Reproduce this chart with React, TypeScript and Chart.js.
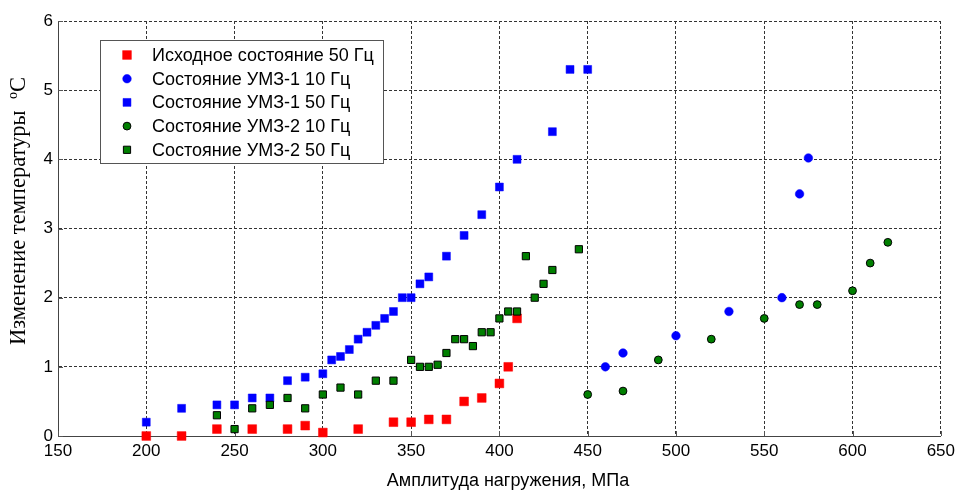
import React, { useEffect, useRef } from "react";
import { Chart, registerables } from "chart.js";

Chart.register(...registerables);

// ---- Data ----
const seriesLabels = [
  "Исходное состояние 50 Гц",
  "Состояние УМЗ-1 10 Гц",
  "Состояние УМЗ-1 50 Гц",
  "Состояние УМЗ-2 10 Гц",
  "Состояние УМЗ-2 50 Гц",
];

const initX = [200, 220, 240, 260, 280, 290, 300, 320, 340, 350, 360, 370, 380, 390, 400, 405, 410];
const initY = [0, 0, 0.1, 0.1, 0.1, 0.15, 0.05, 0.1, 0.2, 0.2, 0.24, 0.24, 0.5, 0.55, 0.76, 1.0, 1.7];

const umz1f10X = [460, 470, 500, 530, 560, 570, 575];
const umz1f10Y = [1.0, 1.2, 1.45, 1.8, 2.0, 3.5, 4.02];

const umz1f50X = [200, 220, 240, 250, 260, 270, 280, 290, 300, 305, 310, 315, 320, 325, 330, 335, 340, 345, 350, 355, 360, 370, 380, 390, 400, 410, 430, 440, 450];
const umz1f50Y = [0.2, 0.4, 0.45, 0.45, 0.55, 0.55, 0.8, 0.85, 0.9, 1.1, 1.15, 1.25, 1.4, 1.5, 1.6, 1.7, 1.8, 2.0, 2.0, 2.2, 2.3, 2.6, 2.9, 3.2, 3.6, 4.0, 4.4, 5.3, 5.3];

const umz2f10X = [450, 470, 490, 520, 550, 570, 580, 600, 610, 620];
const umz2f10Y = [0.6, 0.65, 1.1, 1.4, 1.7, 1.9, 1.9, 2.1, 2.5, 2.8];

const umz2f50X = [240, 250, 260, 270, 280, 290, 300, 310, 320, 330, 340, 350, 355, 360, 365, 370, 375, 380, 385, 390, 395, 400, 405, 410, 415, 420, 425, 430, 445];
const umz2f50Y = [0.3, 0.1, 0.4, 0.45, 0.55, 0.4, 0.6, 0.7, 0.6, 0.8, 0.8, 1.1, 1.0, 1.0, 1.03, 1.2, 1.4, 1.4, 1.3, 1.5, 1.5, 1.7, 1.8, 1.8, 2.6, 2.0, 2.2, 2.4, 2.7];

const xMin = 150, xMax = 650, xStep = 50;
const yMin = 0, yMax = 6, yStep = 1;

const xTitle = "Амплитуда нагружения, МПа";
const yTitleMain = "Изменение температуры  ";
const yTitleSup = "o";
const yTitleEnd = "C";

const toPoints = (xs: number[], ys: number[]) => xs.map((x, i) => ({ x, y: ys[i] }));

type Style = { shape: "rect" | "circle"; fill: string; border: string; radius: number; bw: number };
const styles: Style[] = [
  { shape: "rect", fill: "#ff0000", border: "#ff0000", radius: 6.2, bw: 0.5 },
  { shape: "circle", fill: "#0000ff", border: "#0000ff", radius: 4.3, bw: 0.5 },
  { shape: "rect", fill: "#0000ff", border: "#0000ff", radius: 5.6, bw: 0.5 },
  { shape: "circle", fill: "#007f00", border: "#000000", radius: 3.9, bw: 1 },
  { shape: "rect", fill: "#007f00", border: "#000000", radius: 5.1, bw: 1 },
];

const SANS = '"Liberation Sans", Arial, sans-serif';
const SERIF = '"Liberation Serif", "Times New Roman", serif';

const drawMarker = (ctx: CanvasRenderingContext2D, s: Style, x: number, y: number) => {
  ctx.save();
  ctx.fillStyle = s.fill;
  ctx.strokeStyle = s.border;
  ctx.lineWidth = s.bw;
  ctx.beginPath();
  if (s.shape === "rect") {
    const h = Math.SQRT1_2 * s.radius;
    ctx.rect(x - h, y - h, 2 * h, 2 * h);
  } else {
    ctx.arc(x, y, s.radius, 0, Math.PI * 2);
  }
  ctx.fill();
  ctx.stroke();
  ctx.restore();
};

const customPlugin = {
  id: "customDecor",
  beforeDatasetsDraw(chart: any) {
    const { ctx, chartArea, scales } = chart;
    const tl = 5;
    ctx.save();
    ctx.strokeStyle = "#555";
    ctx.lineWidth = 1;
    ctx.beginPath();
    scales.x.ticks.forEach((t: any) => {
      const px = Math.round(scales.x.getPixelForValue(t.value)) + 0.5;
      ctx.moveTo(px, chartArea.bottom);
      ctx.lineTo(px, chartArea.bottom - tl);
    });
    scales.y.ticks.forEach((t: any) => {
      const py = Math.round(scales.y.getPixelForValue(t.value)) + 0.5;
      ctx.moveTo(chartArea.left, py);
      ctx.lineTo(chartArea.left + tl, py);
    });
    ctx.stroke();
    ctx.restore();
  },
  afterDraw(chart: any) {
    const { ctx } = chart;
    // X title
    ctx.save();
    ctx.fillStyle = "#000";
    ctx.font = `18px ${SANS}`;
    ctx.textAlign = "center";
    ctx.textBaseline = "middle";
    ctx.fillText(xTitle, 508, 481);
    ctx.restore();

    // Y title (rotated, with superscript "o")
    ctx.save();
    ctx.translate(19, 211);
    ctx.rotate(-Math.PI / 2);
    ctx.fillStyle = "#000";
    ctx.textBaseline = "middle";
    ctx.textAlign = "left";
    const mainFont = `22.5px ${SERIF}`;
    const supFont = `14px ${SERIF}`;
    ctx.font = mainFont;
    const w1 = ctx.measureText(yTitleMain).width;
    const w3 = ctx.measureText(yTitleEnd).width;
    ctx.font = supFont;
    const w2 = ctx.measureText(yTitleSup).width;
    const total = w1 + w2 + w3;
    let x = -total / 2;
    ctx.font = mainFont;
    ctx.fillText(yTitleMain, x, 0);
    x += w1;
    ctx.font = supFont;
    ctx.fillText(yTitleSup, x, -6);
    x += w2;
    ctx.font = mainFont;
    ctx.fillText(yTitleEnd, x, 0);
    ctx.restore();

    // Legend
    const bx = 100.5, by = 40.5, bw = 283, bh = 123;
    ctx.save();
    ctx.fillStyle = "#fff";
    ctx.strokeStyle = "#555";
    ctx.lineWidth = 1;
    ctx.fillRect(bx, by, bw, bh);
    ctx.strokeRect(bx, by, bw, bh);
    ctx.font = `18px ${SANS}`;
    ctx.textBaseline = "middle";
    ctx.textAlign = "left";
    seriesLabels.forEach((lab, i) => {
      const y = 55 + i * 23.7;
      drawMarker(ctx, styles[i], 127, y);
      ctx.fillStyle = "#000";
      ctx.fillText(lab, 152, y + 1);
    });
    ctx.restore();
  },
};

export default function App() {
  const canvasRef = useRef<HTMLCanvasElement | null>(null);

  useEffect(() => {
    if (!canvasRef.current) return;
    const seriesData = [
      toPoints(initX, initY),
      toPoints(umz1f10X, umz1f10Y),
      toPoints(umz1f50X, umz1f50Y),
      toPoints(umz2f10X, umz2f10Y),
      toPoints(umz2f50X, umz2f50Y),
    ];
    const datasets = seriesData.map((data, i) => ({
      label: seriesLabels[i],
      data,
      showLine: false,
      pointStyle: styles[i].shape,
      pointRadius: styles[i].radius,
      pointHoverRadius: styles[i].radius,
      pointBackgroundColor: styles[i].fill,
      pointBorderColor: styles[i].border,
      pointBorderWidth: styles[i].bw,
      clip: false as any,
      order: seriesLabels.length - i,
    }));

    const chart = new Chart(canvasRef.current, {
      type: "scatter",
      data: { datasets: datasets as any },
      options: {
        responsive: false,
        animation: false,
        devicePixelRatio: 1,
        layout: { padding: { top: 21, right: 16, left: 0, bottom: 0 } },
        plugins: {
          legend: { display: false },
          tooltip: { enabled: false },
          title: { display: false },
        },
        scales: {
          x: {
            type: "linear",
            min: xMin,
            max: xMax,
            ticks: {
              stepSize: xStep,
              color: "#000",
              font: { family: SANS, size: 17 },
              padding: 5,
              maxRotation: 0,
            },
            grid: { color: "#333", lineWidth: 1, drawTicks: false },
            border: { display: true, color: "#444", width: 1, dash: [3, 2] },
            afterFit: (scale: any) => {
              scale.height = 54;
            },
          },
          y: {
            type: "linear",
            min: yMin,
            max: yMax,
            ticks: {
              stepSize: yStep,
              color: "#000",
              font: { family: SANS, size: 17 },
              padding: 5,
            },
            grid: { color: "#333", lineWidth: 1, drawTicks: false },
            border: { display: true, color: "#444", width: 1, dash: [3, 2] },
            afterFit: (scale: any) => {
              scale.width = 58;
            },
          },
        },
      },
      plugins: [customPlugin],
    });
    return () => chart.destroy();
  }, []);

  return (
    <div style={{ position: "fixed", left: 0, top: 0, width: 960, height: 490, background: "#fff" }}>
      <canvas ref={canvasRef} width={960} height={490} />
    </div>
  );
}
